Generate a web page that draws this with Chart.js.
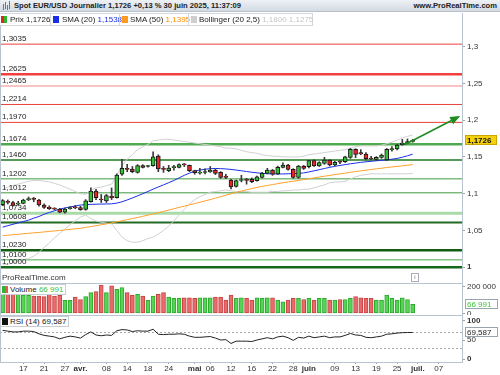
<!DOCTYPE html>
<html><head><meta charset="utf-8">
<script src="https://cdn.jsdelivr.net/npm/chart.js@4.4.0/dist/chart.umd.min.js"></script>
<style>
html,body{margin:0;padding:0;background:#fff;}
body{width:500px;height:375px;overflow:hidden;position:relative;font-family:"Liberation Sans",Arial,sans-serif;color:#222;}
#hdr{position:absolute;left:0;top:0;width:500px;height:12px;background:linear-gradient(#eef1f5,#d3dae2);border-bottom:1px solid #b9c2cc;box-sizing:border-box;}
#ttl{position:absolute;left:14px;top:1px;font-size:7.6px;font-weight:bold;white-space:nowrap;line-height:10px;}
#site{position:absolute;right:3px;top:1px;font-size:7.6px;font-weight:bold;white-space:nowrap;line-height:10px;}
.ic{position:absolute;width:1px;background:#4a7fc0;}
#leg{position:absolute;left:0;top:13px;width:313px;height:13px;background:#fff;border:1px solid #d4d8dc;border-left:none;box-sizing:border-box;z-index:5;}
.li{position:absolute;top:0;height:11px;font-size:8px;line-height:11px;white-space:nowrap;}
.sw{position:absolute;top:2px;width:6px;height:7px;}
.dv{position:absolute;top:0;width:1px;height:11px;background:#d4d8dc;}
canvas{position:absolute;left:0;}
#c1{top:13px;} #c2{top:283px;} #c3{top:315px;}
.pl{position:absolute;left:0;height:11px;background:#fff;border:1px solid #c9ced4;box-sizing:border-box;font-size:8px;line-height:9px;white-space:nowrap;z-index:5;padding:0 2px 0 9px;}
#wm{position:absolute;left:2px;top:273px;font-size:8px;color:#333;}
#ibox{position:absolute;left:411px;top:273px;width:6px;height:7px;border:1px solid #aab;font-size:6px;line-height:7px;text-align:center;color:#667;}
#lb{position:absolute;left:0;top:13px;width:1px;height:349px;background:#b8c4d0;}
</style></head><body>
<div id="hdr">
  <div class="ic" style="left:3px;top:4px;height:6px"></div>
  <div class="ic" style="left:5px;top:2px;height:7px"></div>
  <div class="ic" style="left:7px;top:5px;height:5px"></div>
  <div class="ic" style="left:9px;top:1px;height:8px"></div>
  <span id="ttl">Spot EUR/USD Journalier 1,1726 +0,13 % 30 juin 2025, 11:37:09</span>
  <span id="site">www.ProRealTime.com</span>
</div>
<div id="leg">
  <div class="sw" style="left:1px;background:linear-gradient(90deg,#e02424 50%,#2cb82c 50%)"></div>
  <div class="li" style="left:10px">Prix 1,1726</div>
  <div class="dv" style="left:50px"></div>
  <div class="sw" style="left:53px;background:#1a2ee8"></div>
  <div class="li" style="left:62px">SMA (20) <span style="color:#1a2ee8">1,1538</span></div>
  <div class="dv" style="left:119px"></div>
  <div class="sw" style="left:122px;background:#ff9a1e"></div>
  <div class="li" style="left:130px">SMA (50) <span style="color:#ff8c00">1,1395</span></div>
  <div class="dv" style="left:188px"></div>
  <div class="sw" style="left:191px;background:#cfcfcf"></div>
  <div class="li" style="left:199px">Bollinger (20 2,5) <span style="color:#c6c6c6">1,1800 1,1275</span></div>
</div>
<canvas id="c1" width="500" height="270"></canvas>
<canvas id="c2" width="500" height="32"></canvas>
<canvas id="c3" width="500" height="60"></canvas>
<div id="wm">ProRealTime.com</div>
<div id="ibox">i</div>
<div class="pl" style="top:284px;">
  <div class="sw" style="left:1px;top:1px;background:linear-gradient(90deg,#2cb82c 50%,#e25a5a 50%)"></div>Volume <span style="color:#3cc43c">66 991</span></div>
<div class="pl" style="top:316px;">
  <div class="sw" style="left:1px;top:1px;background:#111"></div>RSI (14) 69,587</div>
<div id="lb"></div>
<script>
// ---------- DATA ----------
const opens  = [1.0850,1.0890,1.0878,1.0858,1.0869,1.0920,1.0928,1.0914,1.0846,1.0815,1.0793,1.0792,1.0748,1.0796,1.0812,1.0810,1.0785,1.0891,1.1037,1.0920,1.0901,1.0969,1.0946,1.1264,1.1338,1.1336,1.1291,1.1381,1.1370,1.1381,1.1513,1.1335,1.1314,1.1355,1.1359,1.1398,1.1386,1.1313,1.1280,1.1288,1.1296,1.1322,1.1291,1.1240,1.1186,1.1100,1.1180,1.1184,1.1196,1.1177,1.1223,1.1277,1.1322,1.1268,1.1359,1.1390,1.1332,1.1223,1.1377,1.1367,1.1449,1.1377,1.1413,1.1458,1.1390,1.1435,1.1435,1.1495,1.1604,1.1558,1.1540,1.1474,1.1467,1.1494,1.1458,1.1600,1.1608,1.1665,1.1690,1.1712];
const highs  = [1.0920,1.0915,1.0895,1.0895,1.0925,1.0955,1.0950,1.0925,1.0862,1.0835,1.0810,1.0800,1.0805,1.0825,1.0840,1.0830,1.0920,1.1080,1.1060,1.0990,1.0990,1.1078,1.1270,1.1468,1.1400,1.1370,1.1395,1.1395,1.1385,1.1570,1.1530,1.1370,1.1385,1.1385,1.1405,1.1410,1.1390,1.1320,1.1345,1.1340,1.1370,1.1335,1.1300,1.1265,1.1195,1.1185,1.1250,1.1210,1.1215,1.1240,1.1290,1.1345,1.1330,1.1375,1.1420,1.1400,1.1340,1.1385,1.1385,1.1455,1.1460,1.1435,1.1495,1.1465,1.1440,1.1450,1.1510,1.1615,1.1612,1.1600,1.1560,1.1510,1.1505,1.1540,1.1615,1.1640,1.1670,1.1740,1.1745,1.1740];
const lows   = [1.0838,1.0860,1.0830,1.0845,1.0862,1.0905,1.0890,1.0830,1.0800,1.0785,1.0780,1.0740,1.0735,1.0790,1.0795,1.0775,1.0775,1.0885,1.0920,1.0880,1.0880,1.0920,1.0940,1.1250,1.1300,1.1285,1.1280,1.1350,1.1360,1.1375,1.1300,1.1290,1.1300,1.1320,1.1350,1.1370,1.1300,1.1265,1.1265,1.1270,1.1290,1.1260,1.1210,1.1205,1.1065,1.1090,1.1160,1.1130,1.1150,1.1170,1.1215,1.1270,1.1250,1.1260,1.1350,1.1320,1.1210,1.1210,1.1330,1.1350,1.1370,1.1370,1.1400,1.1375,1.1380,1.1410,1.1425,1.1480,1.1490,1.1530,1.1460,1.1460,1.1450,1.1480,1.1450,1.1580,1.1595,1.1660,1.1680,1.1700];
const closes = [1.0905,1.0882,1.0842,1.0866,1.0914,1.0926,1.0922,1.0846,1.0812,1.0798,1.0790,1.0748,1.0792,1.0812,1.0808,1.0783,1.0902,1.1037,1.0946,1.0914,1.0973,1.0946,1.1254,1.1345,1.1330,1.1300,1.1381,1.1359,1.1377,1.1503,1.1336,1.1330,1.1350,1.1360,1.1395,1.1392,1.1314,1.1286,1.1286,1.1292,1.1318,1.1277,1.1220,1.1223,1.1092,1.1177,1.1184,1.1182,1.1165,1.1228,1.1277,1.1322,1.1265,1.1359,1.1390,1.1332,1.1223,1.1377,1.1345,1.1449,1.1377,1.1422,1.1458,1.1390,1.1426,1.1428,1.1503,1.1604,1.1536,1.1540,1.1476,1.1472,1.1494,1.1526,1.1605,1.1612,1.1663,1.1690,1.1710,1.1726];
const sma20  = [1.0545,1.0565,1.0584,1.0603,1.0622,1.0640,1.0667,1.0690,1.0720,1.0745,1.0768,1.0790,1.0806,1.0820,1.0832,1.0846,1.0851,1.0855,1.0857,1.0859,1.0860,1.0862,1.0872,1.0890,1.0915,1.0942,1.0970,1.1000,1.1030,1.1062,1.1092,1.1120,1.1150,1.1180,1.1215,1.1250,1.1280,1.1305,1.1322,1.1333,1.1340,1.1343,1.1341,1.1337,1.1330,1.1322,1.1312,1.1302,1.1292,1.1284,1.1277,1.1272,1.1269,1.1268,1.1269,1.1271,1.1273,1.1276,1.1283,1.1296,1.1311,1.1327,1.1343,1.1358,1.1372,1.1384,1.1396,1.1407,1.1417,1.1426,1.1434,1.1441,1.1448,1.1454,1.1461,1.1469,1.1480,1.1496,1.1516,1.1538];
const sma50  = [1.0430,1.0435,1.0441,1.0448,1.0455,1.0461,1.0467,1.0473,1.0480,1.0487,1.0494,1.0500,1.0507,1.0515,1.0522,1.0530,1.0541,1.0553,1.0565,1.0577,1.0590,1.0603,1.0617,1.0632,1.0647,1.0661,1.0676,1.0692,1.0708,1.0724,1.0741,1.0759,1.0777,1.0795,1.0813,1.0831,1.0849,1.0866,1.0884,1.0902,1.0920,1.0940,1.0959,1.0979,1.0999,1.1018,1.1036,1.1053,1.1069,1.1085,1.1099,1.1112,1.1124,1.1137,1.1149,1.1160,1.1170,1.1181,1.1192,1.1204,1.1215,1.1227,1.1238,1.1249,1.1259,1.1270,1.1280,1.1291,1.1301,1.1311,1.1320,1.1329,1.1338,1.1347,1.1356,1.1364,1.1371,1.1379,1.1387,1.1395];
const bbUpper= [1.106,1.109,1.111,1.113,1.115,1.117,1.118,1.118,1.117,1.116,1.114,1.112,1.109,1.106,1.103,1.100,1.099,1.105,1.108,1.109,1.111,1.113,1.125,1.138,1.147,1.153,1.160,1.164,1.167,1.172,1.173,1.174,1.174,1.173,1.172,1.171,1.170,1.169,1.168,1.167,1.166,1.165,1.164,1.162,1.162,1.161,1.159,1.157,1.156,1.155,1.153,1.152,1.151,1.151,1.150,1.150,1.150,1.150,1.151,1.153,1.154,1.155,1.156,1.157,1.158,1.159,1.160,1.162,1.164,1.165,1.165,1.165,1.165,1.166,1.168,1.170,1.173,1.176,1.178,1.180];
const bbLower= [1.003,1.004,1.006,1.008,1.010,1.012,1.015,1.020,1.027,1.033,1.040,1.046,1.052,1.058,1.063,1.068,1.071,1.066,1.063,1.061,1.060,1.059,1.050,1.041,1.036,1.034,1.034,1.036,1.039,1.041,1.045,1.050,1.056,1.063,1.071,1.079,1.086,1.092,1.096,1.099,1.102,1.103,1.104,1.105,1.104,1.103,1.103,1.103,1.102,1.102,1.102,1.102,1.103,1.103,1.104,1.104,1.105,1.105,1.106,1.106,1.108,1.110,1.112,1.115,1.116,1.116,1.117,1.120,1.123,1.125,1.126,1.127,1.127,1.127,1.127,1.127,1.127,1.127,1.127,1.1275];
const volumes= [155000,155000,155000,142000,137000,135000,129000,129000,125000,142000,129000,135000,98000,98000,122000,104000,125000,155000,163000,212000,155000,206000,181000,194000,155000,135000,142000,129000,98000,129000,142000,155000,122000,112000,112000,117000,117000,112000,117000,117000,117000,122000,122000,99000,137000,112000,117000,112000,99000,117000,112000,117000,117000,99000,86000,99000,112000,112000,104000,112000,99000,112000,112000,99000,99000,104000,104000,112000,125000,117000,112000,112000,99000,99000,137000,112000,99000,117000,104000,66991];
const rsi    = [75,73,71,71,73,73,72,66,62,60,58,53,57,60,58,55,64,71,63,61,63,62,74,77,76,72,74,73,73,78,65,64,65,65,66,65,60,57,57,58,59,55,50,51,41,47,47,47,46,50,53,56,53,58,60,56,49,57,55,60,56,58,60,56,58,58,62,67,63,62,57,56,58,60,65,66,68,69,69.5,69.587];
const levels = [1.3035,1.2625,1.2465,1.2214,1.1970,1.1674,1.1460,1.1202,1.1012,1.0734,1.0608,1.0230,1.0100,1.0000];
const priceTicks = [1,1.05,1.1,1.15,1.2,1.25,1.3];
const volTicks = [0,100000,200000];
const rsiTicks = [0,50,100];
const rsiLevels = [70,30];
const arrowIdx = [77.5,87.8];
const arrowVal = [1.1669,1.2044];
const xTickIdx = [4,8,12,15,20,24,28,32,37,40,44,48,52,56,59,64,68,72,76,80,84];
const xTickLabels = ['17','21','27','avr.','08','14','18','24','mai','06','12','16','22','28','juin','09','13','19','25','juil.','07'];
const monthLabels = ['avr.','mai','juin','juil.'];

// ---------- STYLE ----------
const levelStyle = [
 ['#e8413c',1],['#f0413c',2.5],['#f08a86',1.2],['#e8413c',1],['#e8413c',1],
 ['#4faa4f',2.5],['#1d7a1d',1.5],['#3e9a3e',1],['#3e9a3e',1],['#a9dba9',3],
 ['#236b23',2],['#135e13',2.5],['#45a845',1],['#156815',2.5]];
const FONT = '"Liberation Sans", Arial, sans-serif';
const XMIN = -0.5, XMAX = 88.5, AXW = 38;
const fmt = (v,d) => v.toFixed(d).replace('.', ',');
const up = closes.map((c,i) => c >= opens[i]);
const n = closes.length;
const pts = arr => arr.map((v,i) => ({x:i, y:v}));

Chart.defaults.font.family = FONT;
Chart.defaults.font.size = 8;
Chart.defaults.color = '#333';
Chart.defaults.animation = false;
Chart.defaults.responsive = false;
Chart.defaults.plugins.legend.display = false;
Chart.defaults.plugins.tooltip.enabled = false;

function noPad(s) { s.paddingTop = 0; s.paddingBottom = 0; s.paddingLeft = 0; s.paddingRight = 0; }
function rightAxis(min, max, ticks, cb, boldVals) {
  return {
    position: 'right', min, max,
    afterFit: s => { s.width = AXW; noPad(s); },
    afterBuildTicks: s => { s.ticks = ticks.map(v => ({value: v})); },
    ticks: { callback: cb, padding: 2, color: '#333',
      font: c => ({family: FONT, size: 8, weight: (c.tick && boldVals.includes(c.tick.value)) ? 'bold' : 'normal'}) },
    grid: { drawOnChartArea: false, drawTicks: true, tickLength: 3, color: '#9aa4ae' },
    border: { display: true, color: '#b8c4d0' }
  };
}
function hiddenX() { return { type: 'linear', min: XMIN, max: XMAX, display: false, offset: false, grid: {offset: false} }; }

function valueBox(ctx, x, y, w, text, bg, border, color, bold) {
  ctx.save();
  ctx.fillStyle = bg; ctx.strokeStyle = border; ctx.lineWidth = 1;
  ctx.fillRect(x, Math.round(y) - 5, w, 10);
  ctx.strokeRect(x + 0.5, Math.round(y) - 4.5, w - 1, 9);
  ctx.fillStyle = color; ctx.font = (bold ? 'bold ' : '') + '8px ' + FONT;
  ctx.textBaseline = 'middle'; ctx.textAlign = 'left';
  ctx.fillText(text, x + 2, Math.round(y) + 0.5);
  ctx.restore();
}

// ---------- MAIN PRICE CHART ----------
const mainPlugin = {
  id: 'mainDeco',
  beforeDatasetsDraw(chart) {
    const {ctx, chartArea: a, scales: {y}} = chart;
    ctx.save();
    levels.forEach((lv, i) => {
      const py = y.getPixelForValue(lv);
      ctx.strokeStyle = levelStyle[i][0]; ctx.lineWidth = levelStyle[i][1];
      ctx.beginPath(); ctx.moveTo(a.left, py); ctx.lineTo(a.right, py); ctx.stroke();
    });
    ctx.restore();
  },
  afterDatasetsDraw(chart) {
    const {ctx, scales: {x, y}} = chart;
    ctx.save();
    ctx.font = '8px ' + FONT; ctx.fillStyle = '#222'; ctx.textBaseline = 'bottom';
    levels.forEach(lv => {
      const py = y.getPixelForValue(lv);
      ctx.fillText(fmt(lv, 4), 2, py - 1.5);
    });
    const x1 = x.getPixelForValue(arrowIdx[0]), y1 = y.getPixelForValue(arrowVal[0]);
    const x2 = x.getPixelForValue(arrowIdx[1]), y2 = y.getPixelForValue(arrowVal[1]);
    const ang = Math.atan2(y2 - y1, x2 - x1), L = 8, W = 4;
    ctx.fillStyle = '#1e8c1e';
    ctx.beginPath();
    ctx.moveTo(x2 + 2 * Math.cos(ang), y2 + 2 * Math.sin(ang));
    ctx.lineTo(x2 - L * Math.cos(ang) + W * Math.sin(ang), y2 - L * Math.sin(ang) - W * Math.cos(ang));
    ctx.lineTo(x2 - L * Math.cos(ang) - W * Math.sin(ang), y2 - L * Math.sin(ang) + W * Math.cos(ang));
    ctx.closePath(); ctx.fill();
    ctx.restore();
  },
  afterDraw(chart) {
    const {ctx, chartArea: a, scales: {y}} = chart;
    valueBox(ctx, a.right + 3, y.getPixelForValue(closes[n - 1]), 32, fmt(closes[n - 1], 4), '#f4d10e', '#c9a600', '#111', true);
  }
};

new Chart(document.getElementById('c1'), {
  type: 'bar',
  data: { datasets: [
    { type: 'bar', data: closes.map((c,i) => ({x:i, y:[opens[i], c]})), backgroundColor: up.map(u => u ? '#33c233' : '#e42626'),
      borderColor: '#1a1a1a', borderWidth: 1, borderSkipped: false, barThickness: 4, minBarLength: 1, grouped: false, order: 1 },
    { type: 'bar', data: closes.map((c,i) => ({x:i, y:[lows[i], highs[i]]})), backgroundColor: '#3a3a3a',
      borderWidth: 0, barThickness: 1, grouped: false, order: 2 },
    { type: 'line', data: pts(sma20), borderColor: '#1a2ee8', borderWidth: 1, pointRadius: 0, order: 3 },
    { type: 'line', data: pts(sma50), borderColor: '#ffa02a', borderWidth: 1, pointRadius: 0, order: 4 },
    { type: 'line', data: pts(bbUpper), borderColor: '#d0d0d0', borderWidth: 1, pointRadius: 0, order: 5 },
    { type: 'line', data: pts(bbLower), borderColor: '#d0d0d0', borderWidth: 1, pointRadius: 0, order: 5 },
    { type: 'line', data: arrowIdx.map((v,i) => ({x:v, y:arrowVal[i]})), borderColor: '#1e8c1e', borderWidth: 1.5, pointRadius: 0, order: 0 }
  ]},
  options: {
    layout: { padding: 0 },
    scales: {
      x: hiddenX(),
      y: rightAxis(0.97850, 1.34585, priceTicks, v => String(v).replace('.', ','), [1])
    }
  },
  plugins: [mainPlugin]
});

// ---------- VOLUME ----------
const volPlugin = {
  id: 'volDeco',
  beforeDatasetsDraw(chart) {
    const {ctx, chartArea: a} = chart;
    ctx.save(); ctx.strokeStyle = '#b8c4d0'; ctx.lineWidth = 1;
    ctx.beginPath(); ctx.moveTo(a.left, a.top + 0.5); ctx.lineTo(a.right, a.top + 0.5); ctx.stroke();
    ctx.restore();
  },
  afterDraw(chart) {
    const {ctx, chartArea: a, scales: {y}} = chart;
    const v = volumes[n - 1];
    valueBox(ctx, a.right + 3, y.getPixelForValue(v), 33, '66 991', '#fff', '#9aa4ae', '#3cc43c', false);
  }
};
new Chart(document.getElementById('c2'), {
  type: 'bar',
  data: { datasets: [
    { data: pts(volumes), backgroundColor: up.map(u => u ? '#55d455' : '#e86a6a'), borderColor: up.map(u => u ? '#2ea82e' : '#c84444'),
      borderWidth: 1, borderSkipped: false, barThickness: 4 }
  ]},
  options: {
    layout: { padding: 0 },
    scales: {
      x: hiddenX(),
      y: rightAxis(-12782, 227820, volTicks, v => v === 0 ? '0' : (v / 1000) + ' 000', [])
    }
  },
  plugins: [volPlugin]
});

// ---------- RSI ----------
const rsiPlugin = {
  id: 'rsiDeco',
  beforeDatasetsDraw(chart) {
    const {ctx, chartArea: a, scales: {y}} = chart;
    ctx.save(); ctx.strokeStyle = '#b8c4d0'; ctx.lineWidth = 1;
    ctx.beginPath(); ctx.moveTo(a.left, a.top + 0.5); ctx.lineTo(a.right, a.top + 0.5); ctx.stroke();
    ctx.strokeStyle = '#a8a8a8'; ctx.setLineDash([2, 2]);
    rsiLevels.forEach(l => {
      const py = Math.round(y.getPixelForValue(l)) + 0.5;
      ctx.beginPath(); ctx.moveTo(a.left, py); ctx.lineTo(a.right, py); ctx.stroke();
    });
    ctx.restore();
  },
  afterDraw(chart) {
    const {ctx, chartArea: a, scales: {y}} = chart;
    valueBox(ctx, a.right + 3, y.getPixelForValue(rsi[n - 1]), 33, fmt(rsi[n - 1], 3), '#fff', '#9aa4ae', '#222', false);
  }
};
new Chart(document.getElementById('c3'), {
  type: 'line',
  data: { datasets: [
    { data: pts(rsi), borderColor: '#222', borderWidth: 1, pointRadius: 0 }
  ]},
  options: {
    layout: { padding: 0 },
    scales: {
      x: { type: 'linear', min: XMIN, max: XMAX, offset: false,
        afterFit: s => { s.height = 13; noPad(s); },
        afterBuildTicks: s => { s.ticks = xTickIdx.map(v => ({value: v})); },
        ticks: { autoSkip: false, maxRotation: 0, padding: 0, color: '#333',
          callback: v => xTickLabels[xTickIdx.indexOf(v)],
          font: c => ({family: FONT, size: 8, weight: (c.tick && monthLabels.includes(xTickLabels[xTickIdx.indexOf(c.tick.value)])) ? 'bold' : 'normal'}) },
        grid: { drawOnChartArea: false, drawTicks: true, tickLength: 2, color: '#9aa4ae', offset: false },
        border: { display: true, color: '#b8c4d0' } },
      y: rightAxis(-7.1, 114.9, rsiTicks, v => String(v), [0, 100])
    }
  },
  plugins: [rsiPlugin]
});
</script>
</body></html>
